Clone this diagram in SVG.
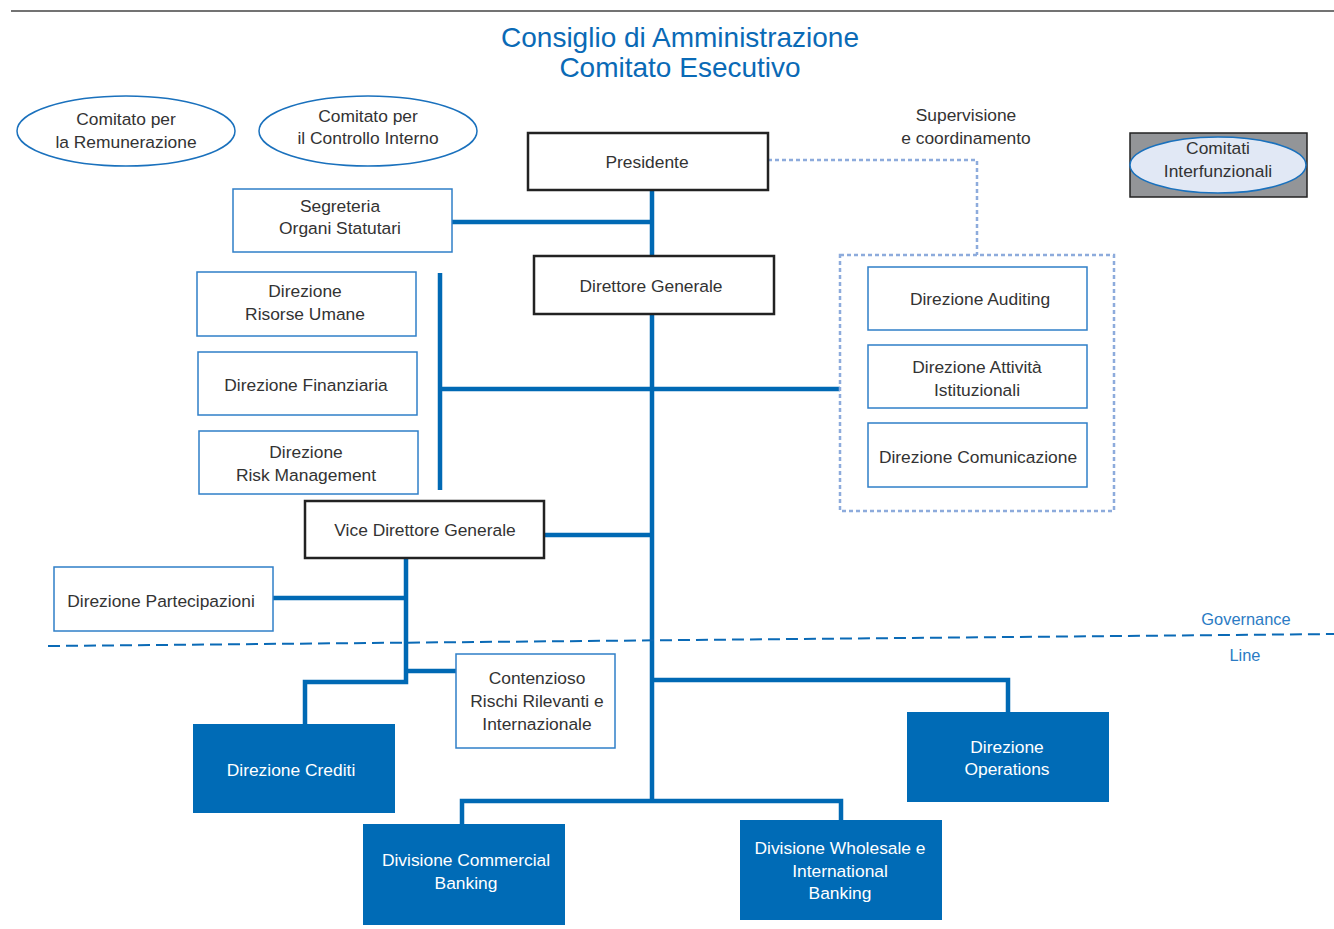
<svg xmlns="http://www.w3.org/2000/svg" width="1334" height="929" viewBox="0 0 1334 929">
<style>
text{font-family:"Liberation Sans",Arial,sans-serif;font-size:17.4px;fill:#333;text-anchor:middle}
.title{font-size:28px;fill:#0a6ab6}
.w{fill:#fff}
.lbl{fill:#2b7bc4;font-size:16.4px}
.thin{fill:#fff;stroke:#2f7fc8;stroke-width:1.5}
.dark{fill:#fff;stroke:#222;stroke-width:2.5}
.solid{fill:#006bb6;stroke:none}
.ell{fill:#fff;stroke:#1a71bd;stroke-width:1.5}
.conn{fill:none;stroke:#0069b4;stroke-width:4.5}
.dot{fill:none;stroke:#8dabdc;stroke-width:2.5;stroke-dasharray:4 3}
</style>
<line x1="11" y1="11" x2="1334" y2="11" stroke="#444" stroke-width="1.5"/>
<text class="title" x="680" y="47">Consiglio di Amministrazione</text>
<text class="title" x="680" y="77">Comitato Esecutivo</text>

<g id="connectors">
<path class="conn" d="M652,190 V801"/>
<path class="conn" d="M452,222 H652"/>
<path class="conn" d="M440,273 V490"/>
<path class="conn" d="M440,389 H840"/>
<path class="conn" d="M544,535 H652"/>
<path class="conn" d="M406,558 V682 H305 V724"/>
<path class="conn" d="M273,598 H406"/>
<path class="conn" d="M406,671 H456"/>
<path class="conn" d="M652,680 H1008 V712"/>
<path class="conn" d="M462,824 V801 H841 V820"/>
<path class="dot" d="M768,160 H977 V255"/>
<line x1="48" y1="646" x2="1334" y2="634" stroke="#0a6ab6" stroke-width="2" stroke-dasharray="12 6"/>
</g>

<g id="com-remunerazione">
<ellipse class="ell" cx="126" cy="131" rx="109" ry="35"/>
<text x="126" y="125">Comitato per</text>
<text x="126" y="148">la Remunerazione</text>
</g>
<g id="com-controllo">
<ellipse class="ell" cx="368" cy="131" rx="109" ry="35"/>
<text x="368" y="122">Comitato per</text>
<text x="368" y="144">il Controllo Interno</text>
</g>
<g id="presidente">
<rect class="dark" x="528" y="133" width="240" height="57"/>
<text x="647" y="168">Presidente</text>
</g>
<g id="supervisione">
<text x="966" y="121">Supervisione</text>
<text x="966" y="144">e coordinamento</text>
</g>
<g id="comitati-interfunzionali">
<rect x="1130" y="133" width="177" height="64" fill="#939598" stroke="#222" stroke-width="1.5"/>
<ellipse cx="1218" cy="165" rx="88" ry="28" fill="#e1e8f5" stroke="#1a71bd" stroke-width="1.5"/>
<text x="1218" y="154">Comitati</text>
<text x="1218" y="177">Interfunzionali</text>
</g>
<g id="segreteria">
<rect class="thin" x="233" y="189" width="219" height="63"/>
<text x="340" y="212">Segreteria</text>
<text x="340" y="234">Organi Statutari</text>
</g>
<g id="direttore-generale">
<rect class="dark" x="534" y="256" width="240" height="58"/>
<text x="651" y="292">Direttore Generale</text>
</g>
<g id="risorse-umane">
<rect class="thin" x="197" y="272" width="219" height="64"/>
<text x="305" y="297">Direzione</text>
<text x="305" y="320">Risorse Umane</text>
</g>
<g id="finanziaria">
<rect class="thin" x="198" y="352" width="219" height="63"/>
<text x="306" y="391">Direzione Finanziaria</text>
</g>
<g id="risk">
<rect class="thin" x="199" y="431" width="219" height="63"/>
<text x="306" y="458">Direzione</text>
<text x="306" y="481">Risk Management</text>
</g>
<g id="staff-group">
<rect class="dot" x="840" y="255" width="274" height="256"/>
</g>
<g id="auditing">
<rect class="thin" x="868" y="267" width="219" height="63"/>
<text x="980" y="305">Direzione Auditing</text>
</g>
<g id="attivita">
<rect class="thin" x="868" y="345" width="219" height="63"/>
<text x="977" y="373">Direzione Attività</text>
<text x="977" y="396">Istituzionali</text>
</g>
<g id="comunicazione">
<rect class="thin" x="868" y="423" width="219" height="64"/>
<text x="978" y="463">Direzione Comunicazione</text>
</g>
<g id="vice-direttore">
<rect class="dark" x="305" y="501" width="239" height="57"/>
<text x="425" y="536">Vice Direttore Generale</text>
</g>
<g id="partecipazioni">
<rect class="thin" x="54" y="567" width="219" height="64"/>
<text x="161" y="607">Direzione Partecipazioni</text>
</g>
<g id="contenzioso">
<rect class="thin" x="456" y="654" width="159" height="94"/>
<text x="537" y="684">Contenzioso</text>
<text x="537" y="707">Rischi Rilevanti e</text>
<text x="537" y="730">Internazionale</text>
</g>
<g id="crediti">
<rect class="solid" x="193" y="724" width="202" height="89"/>
<text class="w" x="291" y="776">Direzione Crediti</text>
</g>
<g id="operations">
<rect class="solid" x="907" y="712" width="202" height="90"/>
<text class="w" x="1007" y="753">Direzione</text>
<text class="w" x="1007" y="775">Operations</text>
</g>
<g id="commercial">
<rect class="solid" x="363" y="824" width="202" height="101"/>
<text class="w" x="466" y="866">Divisione Commercial</text>
<text class="w" x="466" y="889">Banking</text>
</g>
<g id="wholesale">
<rect class="solid" x="740" y="820" width="202" height="100"/>
<text class="w" x="840" y="854">Divisione Wholesale e</text>
<text class="w" x="840" y="877">International</text>
<text class="w" x="840" y="899">Banking</text>
</g>
<g id="labels">
<text class="lbl" x="1246" y="625">Governance</text>
<text class="lbl" x="1245" y="661">Line</text>
</g>
</svg>
